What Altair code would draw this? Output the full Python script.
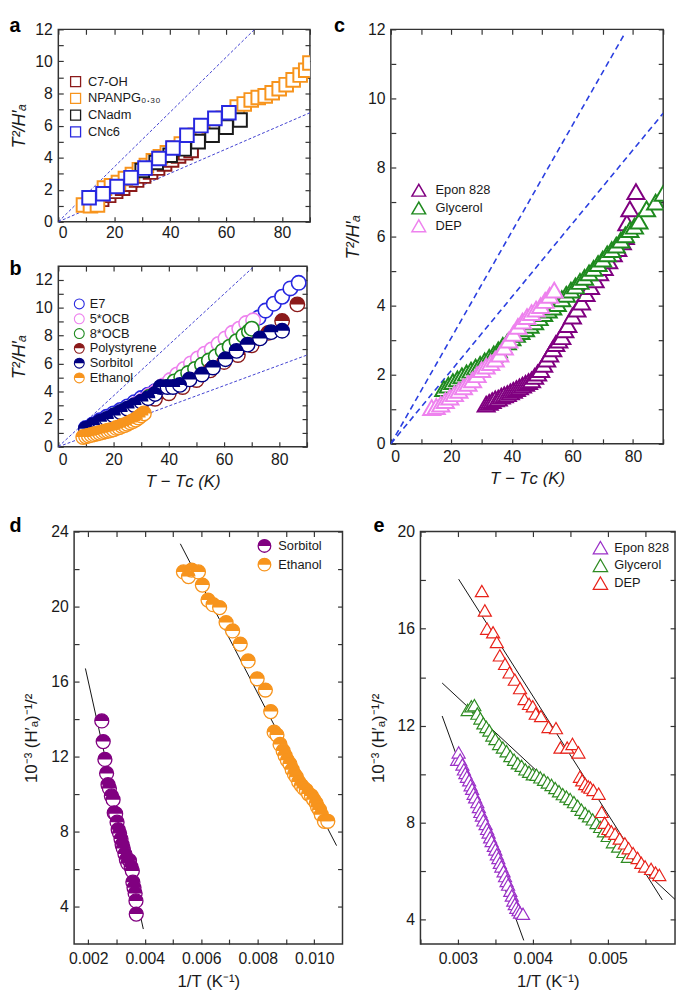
import altair as alt
import pandas as pd

FONT = "Liberation Sans"
INK = "#1a1a1a"
HALF = "M-1,0A1,1 0 0,1 1,0ZM-1,1L1,1Z"

# ---------------- panel a ----------------
a_names = ["C7-OH", "NPANPG₀.₃₀", "CNadm", "CNc6"]
a_colors = ["#8b1a1a", "#f7941d", "#1a1a1a", "#2828e0"]
a_c7oh_x = [13, 15.5, 18, 20.5, 23, 25.5, 28, 30.5, 33, 35.5, 38, 40.5, 43, 45.5, 47.5]
a_c7oh_y = [1.15, 1.4, 1.65, 1.9, 2.1, 2.35, 2.6, 2.85, 3.1, 3.35, 3.6, 3.85, 4.1, 4.3, 4.45]
a_npan_x = [9, 11.5, 14, 16.5, 19, 21.5, 24, 26.5, 29, 31.5, 34, 36.5, 39, 41.5, 44, 46.5, 49,
            51.5, 54, 56.5, 59, 61.5, 64, 66.5, 69, 71.5, 74, 76.5, 79, 81.5, 84, 86.5, 88.5, 90]
a_npan_y = [1.05, 1.0, 1.05, 2.1, 2.25, 2.45, 2.7, 2.95, 3.25, 3.5, 3.8, 4.05, 4.3, 4.6, 4.85, 5.15,
            5.4, 5.7, 5.95, 6.2, 6.45, 6.75, 7.15, 7.35, 7.6, 7.75, 7.85, 8.05, 8.3, 8.55, 8.85,
            9.15, 9.45, 9.9]
a_cnadm_x = [30, 35, 40, 45, 50, 55, 60, 65]
a_cnadm_y = [3.2, 3.7, 4.15, 4.55, 5.0, 5.4, 5.9, 6.35]
a_cnc6_x = [11, 16, 21, 26, 31, 36, 41, 46, 51, 56, 61]
a_cnc6_y = [1.5, 1.75, 2.2, 2.75, 3.35, 3.95, 4.6, 5.4, 6.0, 6.45, 6.8]
a_guide_id = ["upper", "upper", "lower", "lower"]
a_guide_x = [0, 70.2, 0, 90]
a_guide_y = [0, 12, 0, 6.8]

# ---------------- panel b ----------------
b_names = ["E7", "5*OCB", "8*OCB", "Polystyrene", "Sorbitol", "Ethanol"]
b_colors = ["#2828e0", "#ee82ee", "#1f8a1f", "#8b1a1a", "#000080", "#f7941d"]
b_half_colors = ["transparent", "transparent", "transparent", "#8b1a1a", "#000080", "#f7941d"]
b_e7_x = [10, 12.5, 15, 17.5, 20, 22.5, 25, 27.5, 30, 32.5, 35, 37.5, 40, 42.5, 45, 47.5, 50,
          52.5, 55, 57.5, 60, 62.5, 65, 67.5, 70, 72.5, 75, 78, 81, 84, 87]
b_e7_y = [1.35, 1.6, 1.9, 2.15, 2.4, 2.65, 2.9, 3.2, 3.5, 3.75, 4.0, 4.3, 4.6, 4.9, 5.2, 5.5, 5.9,
          6.2, 6.6, 6.9, 7.3, 7.7, 8.1, 8.5, 8.9, 9.3, 9.8, 10.3, 10.8, 11.4, 11.8]
b_5ocb_x = [13, 15.5, 18, 20.5, 23, 25.5, 28, 30.5, 33, 35.5, 38, 40.5, 43, 45.5, 48, 50.5, 53,
            55.5, 58, 60.5, 63, 65.5, 68, 70.5]
b_5ocb_y = [1.5, 1.75, 2.0, 2.25, 2.5, 2.75, 3.05, 3.35, 3.7, 4.0, 4.4, 4.8, 5.2, 5.6, 6.0, 6.35,
            6.7, 7.0, 7.4, 7.8, 8.2, 8.5, 8.9, 9.1]
b_8ocb_x = [12, 15, 18, 21, 24, 27, 30, 33, 36, 39, 42, 44.5, 47, 49.5, 52, 54.5, 57, 59.5, 62,
            64.5, 67, 69, 70]
b_8ocb_y = [1.4, 1.7, 2.0, 2.3, 2.6, 2.9, 3.2, 3.6, 3.9, 4.3, 4.7, 5.0, 5.3, 5.6, 5.9, 6.2, 6.5,
            6.9, 7.2, 7.6, 8.0, 8.3, 8.5]
b_poly_x = [12, 16, 20, 25, 30, 35, 40, 45, 50, 55, 60, 65, 70, 76, 81, 86.5]
b_poly_y = [1.4, 1.8, 2.1, 2.6, 3.1, 3.45, 3.85, 4.3, 4.8, 5.5, 6.1, 6.6, 7.3, 8.2, 9.05, 10.25]
b_sorb_x = [10, 12.5, 15, 17.5, 20, 22.5, 25, 27.5, 30, 32.5, 35, 37, 39.5, 41.5, 44, 47.5, 52,
            56, 60.5, 64.5, 68.5, 73, 77, 81]
b_sorb_y = [1.3, 1.55, 1.8, 2.0, 2.25, 2.5, 2.75, 3.0, 3.25, 3.5, 3.8, 4.3, 4.3, 4.3, 4.45, 4.85,
            5.2, 5.7, 6.3, 6.9, 7.35, 7.8, 8.25, 8.35]
b_eth_x = [9, 10, 11, 12, 13, 14, 15, 16, 17, 18, 19, 20, 21, 22, 23, 24, 25, 26, 27, 28, 29, 30, 31]
b_eth_y = [0.7, 0.75, 0.8, 0.85, 0.9, 0.95, 1.0, 1.05, 1.1, 1.15, 1.2, 1.25, 1.35, 1.4, 1.5, 1.55,
           1.65, 1.75, 1.85, 1.95, 2.1, 2.25, 2.4]
b_guide_id = ["upper", "upper", "lower", "lower"]
b_guide_x = [0, 70.9, 0, 90]
b_guide_y = [0, 13, 0, 6.6]

# ---------------- panel c ----------------
c_names = ["Epon 828", "Glycerol", "DEP"]
c_colors = ["#800080", "#1f8a1f", "#ee82ee"]
c_epon_x = [31.5, 32.5, 33.5, 34.5, 35.5, 36.5, 37.5, 38.5, 39.5, 40.5, 41.5, 42.5, 43.5, 44.5,
            45.5, 46.5, 47.5, 48.5, 49.5, 50.5, 51.5, 52.5, 53.5, 54.5, 55.5, 56.5, 57.5, 58.5,
            60, 61.5, 63, 64.5, 66, 67.5, 69, 70.5, 72, 73.5, 75, 76.5, 77.5, 78, 79, 81]
c_epon_y = [1.15, 1.2, 1.25, 1.3, 1.32, 1.38, 1.42, 1.45, 1.5, 1.55, 1.6, 1.65, 1.7, 1.75, 1.8,
            1.85, 1.95, 2.05, 2.15, 2.3, 2.45, 2.6, 2.75, 2.9, 3.0, 3.1, 3.3, 3.45, 3.7, 3.9, 4.1,
            4.35, 4.55, 4.75, 4.95, 5.1, 5.3, 5.5, 5.65, 5.85, 6.0, 6.4, 6.8, 7.3]
c_glyc_x = [17.5, 19, 20.5, 22, 23.5, 25, 26.5, 28, 29.5, 31, 32.5, 34, 35.5, 37, 38.5, 40, 41.5,
            43, 44.5, 46, 47.5, 49, 50.5, 52, 53.5, 55, 56.5, 58, 59.5, 61, 62.5, 64, 65.5, 67,
            68.5, 70, 71.5, 73, 74.5, 76, 77.5, 79, 80.5, 82, 84.5, 87.5, 90]
c_glyc_y = [1.6, 1.7, 1.8, 1.88, 1.97, 2.05, 2.13, 2.22, 2.3, 2.4, 2.5, 2.6, 2.72, 2.85, 2.95,
            3.07, 3.17, 3.25, 3.33, 3.43, 3.53, 3.65, 3.77, 3.87, 3.96, 4.06, 4.2, 4.33, 4.45,
            4.57, 4.7, 4.82, 4.95, 5.08, 5.22, 5.35, 5.5, 5.62, 5.75, 5.9, 6.05, 6.2, 6.3, 6.45,
            6.8, 7.0, 7.25]
c_dep_x = [13.5, 15, 16.5, 18, 19.5, 21, 22.5, 24, 25.5, 27, 28.5, 30, 31.5, 33, 34.5, 36, 37.5,
           39, 40.5, 42, 43.5, 45, 46.5, 48, 49.5, 51, 52.5, 54]
c_dep_y = [1.05, 1.08, 1.15, 1.25, 1.35, 1.45, 1.55, 1.65, 1.75, 1.85, 2.0, 2.15, 2.25, 2.35,
           2.45, 2.6, 2.8, 3.0, 3.2, 3.4, 3.55, 3.68, 3.8, 3.9, 4.0, 4.15, 4.3, 4.45]
c_guide_id = ["upper", "upper", "lower", "lower"]
c_guide_x = [0, 77.1, 0, 90]
c_guide_y = [0, 11.85, 0, 9.57]

# ---------------- panel d ----------------
d_names = ["Sorbitol", "Ethanol"]
d_colors = ["#800080", "#f7941d"]
d_sorb_x = [0.00248, 0.00253, 0.00259, 0.00265, 0.00270, 0.00275, 0.00282, 0.00288, 0.00292,
            0.00297, 0.00302, 0.00306, 0.00311, 0.00316, 0.00320, 0.00324, 0.00330, 0.00335,
            0.00340, 0.00346, 0.00352, 0.00356, 0.00358, 0.00362, 0.00366, 0.00369, 0.00370]
d_sorb_y = [13.9, 12.8, 11.85, 11.1, 10.5, 10.3, 9.9, 9.7, 9.0, 8.95, 8.5, 8.1, 7.9, 7.6, 7.3,
            7.1, 6.8, 6.5, 6.3, 6.45, 6.1, 5.9, 5.3, 5.0, 4.7, 4.3, 3.6]
d_eth_x = [0.00537, 0.00555, 0.00566, 0.00590, 0.00604, 0.00624, 0.00642, 0.00665, 0.00688,
           0.00711, 0.00738, 0.00766, 0.00798, 0.00827, 0.00846, 0.00858, 0.00868, 0.00879,
           0.00890, 0.00897, 0.00905, 0.00914, 0.00922, 0.00930, 0.00937, 0.00945, 0.00955,
           0.00963, 0.00972, 0.00980, 0.00990, 0.00998, 0.01007, 0.01012, 0.01019, 0.01025,
           0.01036, 0.01048]
d_eth_y = [21.85, 21.6, 21.95, 21.85, 21.15, 20.35, 20.1, 19.95, 19.15, 18.7, 18.0, 17.1, 16.15,
           15.55, 14.4, 13.3, 13.15, 12.65, 12.3, 12.05, 11.8, 11.6, 11.3, 11.05, 10.9, 10.65,
           10.45, 10.3, 10.2, 10.0, 9.9, 9.7, 9.5, 9.3, 9.15, 8.9, 8.55, 8.55]
d_fit_id = ["sorb", "sorb", "eth", "eth"]
d_fit_x = [0.0019, 0.00395, 0.00526, 0.01079]
d_fit_y = [16.7, 2.8, 23.35, 7.25]

# ---------------- panel e ----------------
e_names = ["Epon 828", "Glycerol", "DEP"]
e_colors = ["#9b30c8", "#2e8b22", "#e8221a"]
e_epon_x = [0.00299, 0.00301, 0.00303, 0.00306, 0.00308, 0.00310, 0.00312, 0.00315, 0.00317,
            0.00319, 0.00321, 0.00323, 0.00326, 0.00328, 0.00330, 0.00332, 0.00334, 0.00337,
            0.00339, 0.00341, 0.00343, 0.00345, 0.00348, 0.00350, 0.00352, 0.00354, 0.00356,
            0.00358, 0.00361, 0.00363, 0.00365, 0.00367, 0.00370, 0.00372, 0.00374, 0.00376,
            0.00378, 0.00381, 0.00383, 0.00387]
e_epon_y = [10.6, 10.9, 10.6, 10.4, 10.2, 10.05, 9.9, 9.75, 9.55, 9.4, 9.2, 9.05, 8.85, 8.65,
            8.45, 8.3, 8.1, 7.95, 7.75, 7.6, 7.4, 7.25, 7.05, 6.9, 6.7, 6.55, 6.35, 6.2, 6.0, 5.8,
            5.6, 5.45, 5.2, 5.0, 4.8, 4.65, 4.5, 4.4, 4.3, 4.25]
e_glyc_x = [0.00313, 0.00318, 0.00322, 0.00326, 0.00330, 0.00334, 0.00338, 0.00342, 0.00346,
            0.00350, 0.00355, 0.00360, 0.00365, 0.00370, 0.00375, 0.00380, 0.00385, 0.00390,
            0.00395, 0.00400, 0.00405, 0.00410, 0.00415, 0.00420, 0.00425, 0.00430, 0.00435,
            0.00440, 0.00445, 0.00450, 0.00455, 0.00460, 0.00465, 0.00470, 0.00475, 0.00480,
            0.00485, 0.00490, 0.00495, 0.00500, 0.00507, 0.00514, 0.00521, 0.00527]
e_glyc_y = [12.65, 12.8, 12.85, 12.5, 12.3, 12.1, 11.95, 11.8, 11.6, 11.45, 11.25, 11.1, 10.95,
            10.75, 10.6, 10.45, 10.35, 10.2, 10.1, 10.0, 9.98, 9.87, 9.77, 9.66, 9.56, 9.43, 9.3,
            9.18, 9.08, 8.98, 8.85, 8.7, 8.54, 8.4, 8.27, 8.14, 7.99, 7.83, 7.65, 7.46, 7.2,
            7.02, 6.8, 6.6]
e_dep_x = [0.00332, 0.00336, 0.00339, 0.00347, 0.00352, 0.00356, 0.00363, 0.00369, 0.00376,
           0.00383, 0.00389, 0.00395, 0.00400, 0.00404, 0.00411, 0.00421, 0.00431, 0.00437,
           0.00446, 0.00453, 0.00461, 0.00463, 0.00466, 0.00470, 0.00474, 0.00477, 0.00481,
           0.00488, 0.00492, 0.00496, 0.00501, 0.00505, 0.00510, 0.00516, 0.00523, 0.00528,
           0.00534, 0.00540, 0.00545, 0.00550, 0.00558, 0.00564, 0.00569]
e_dep_y = [17.55, 16.75, 16.0, 15.85, 15.45, 14.9, 14.55, 14.2, 13.9, 13.55, 13.1, 12.9, 12.8,
           12.5, 12.4, 11.95, 11.9, 11.1, 11.1, 11.25, 10.9, 9.9, 9.75, 9.6, 9.5, 9.45, 9.35,
           9.2, 8.45, 8.0, 7.75, 7.65, 7.55, 7.35, 7.15, 6.95, 6.75, 6.55, 6.35, 6.2, 6.1, 5.95,
           5.85]
e_fit_id = ["epon", "epon", "glyc", "glyc", "dep", "dep"]
e_fit_x = [0.00279, 0.00388, 0.00279, 0.0059, 0.00301, 0.00573]
e_fit_y = [12.4, 3.15, 13.76, 4.84, 18.04, 4.82]


# ---------------- helpers ----------------
def frame(names, xs, ys):
    rows = []
    for name, xx, yy in zip(names, xs, ys):
        for x, y in zip(xx, yy):
            rows.append({"series": name, "half": name + " (h)", "x": x, "y": y})
    return pd.DataFrame(rows)


def guide_frame(ids, xs, ys):
    return pd.DataFrame({"id": ids, "x": xs, "y": ys})


def sc(dom):
    return alt.Scale(domain=dom, nice=False, zero=False)


def ax(orient, values, expr=None, fmt=None, title=None, italic=False, tsize=18, tpad=6, lpad=5,
       letter=None):
    kw = dict(orient=orient, values=values, tickSize=5, offset=-5, domain=False, grid=False,
              tickColor="#333333", tickWidth=1.2)
    if expr is None:
        kw["labels"] = False
    else:
        kw.update(labelExpr=expr, labelFont=FONT, labelFontSize=16, labelColor=INK,
                  labelPadding=lpad, labelOverlap=False)
        if fmt is not None:
            kw["format"] = fmt
    if letter is not None:
        # panel letter, placed as the title of the (label-less) top axis
        txt, lx, ly = letter
        kw.update(title=txt, titleX=lx, titleY=ly, titleAngle=0, titleAlign="left",
                  titleBaseline="alphabetic", titleFont=FONT, titleFontSize=20,
                  titleFontWeight="bold", titleColor="#000000")
    elif title is None:
        kw["title"] = None
    else:
        kw.update(title=title, titleFont=FONT, titleFontSize=tsize, titleColor=INK,
                  titleFontWeight="normal", titlePadding=tpad,
                  titleFontStyle="italic" if italic else "normal")
    return alt.Axis(**kw)


def guide_layer(df, xs, ys, xt, yt, color, width, letter, dash=None):
    mk = dict(color=color, strokeWidth=width, clip=True)
    if dash is not None:
        mk["strokeDash"] = dash
    return alt.Chart(df).mark_line(**mk).encode(
        x=alt.X("x:Q", scale=xs, axis=ax("top", xt, letter=letter)),
        y=alt.Y("y:Q", scale=ys, axis=ax("right", yt)),
        detail="id:N",
    )


def pt_layer(df, xs, ys, shape, size, sw, sscale, slegend, xaxis=None, yaxis=None):
    return alt.Chart(df).mark_point(shape=shape, size=size, filled=True, fill="white",
                                    strokeWidth=sw, opacity=1, clip=True).encode(
        x=alt.X("x:Q", scale=xs, axis=xaxis),
        y=alt.Y("y:Q", scale=ys, axis=yaxis),
        stroke=alt.Stroke("series:N", scale=sscale, legend=slegend),
    )


def half_layer(df, xs, ys, size, fscale, flegend):
    return alt.Chart(df).mark_point(shape=HALF, size=size, filled=True, strokeWidth=0,
                                    opacity=1, clip=True).encode(
        x=alt.X("x:Q", scale=xs, axis=None),
        y=alt.Y("y:Q", scale=ys, axis=None),
        fill=alt.Fill("half:N", scale=fscale, legend=flegend),
    )


def leg(x, y, stype, ssize, sw, rowpad, loff, half=False):
    kw = dict(orient="none", legendX=x, legendY=y, title=None, symbolType=stype,
              symbolSize=ssize, symbolStrokeWidth=sw, labelFont=FONT, labelFontSize=13,
              labelColor=INK, rowPadding=rowpad, padding=0, labelOffset=loff, symbolOpacity=1)
    if half:
        kw["symbolStrokeColor"] = "transparent"
        kw["labelExpr"] = "''"
    else:
        kw["symbolFillColor"] = "white"
    return alt.Legend(**kw)


EX20 = "datum.value % 20 == 0 && datum.value < 90 ? datum.label : ''"
EY2 = "datum.value % 2 == 0 ? datum.label : ''"
EY4 = "datum.value % 4 == 0 ? datum.label : ''"
YT_T2 = "T²/H′ₐ"
YT_H = "10⁻³ (H′ₐ)⁻¹/²"
XT_T = "T − Tᴄ (K)"
XT_INV = "1/T (K⁻¹)"

# ---------------- panel a ----------------
xs_a, ys_a = sc([0, 90]), sc([0, 12])
xt_a, yt_a = list(range(0, 91, 10)), list(range(0, 13))
df_a = frame(a_names, [a_c7oh_x, a_npan_x, a_cnadm_x, a_cnc6_x],
             [a_c7oh_y, a_npan_y, a_cnadm_y, a_cnc6_y])
panel_a = alt.layer(
    guide_layer(guide_frame(a_guide_id, a_guide_x, a_guide_y), xs_a, ys_a, xt_a, yt_a,
                "#4040d0", 1, ("a", -50, -3), [3, 2]),
    pt_layer(df_a, xs_a, ys_a, "square", 190, 2, alt.Scale(domain=a_names, range=a_colors),
             leg(11, 46.4, "square", 102, 1.3, 0, 6),
             xaxis=ax("bottom", xt_a, EX20, lpad=3),
             yaxis=ax("left", yt_a, EY2, title=YT_T2, italic=True, tpad=6, lpad=6)),
).resolve_axis(x="independent", y="independent").properties(width=255, height=195)

# ---------------- panel b ----------------
xs_b, ys_b = sc([0, 90]), sc([0, 13])
xt_b, yt_b = list(range(0, 91, 10)), list(range(0, 13))
s_b = alt.Scale(domain=b_names, range=b_colors)
f_b = alt.Scale(domain=[n + " (h)" for n in b_names], range=b_half_colors)
lg_b = leg(14.75, 31.8, "circle", 100, 1.1, 0, 4)
lf_b = leg(14.75, 31.8, HALF, 100, 1.1, 0, 4, half=True)
df_b_open = frame(b_names[:3], [b_e7_x, b_5ocb_x, b_8ocb_x], [b_e7_y, b_5ocb_y, b_8ocb_y])
df_b_poly = frame(["Polystyrene"], [b_poly_x], [b_poly_y])
df_b_sorb = frame(["Sorbitol"], [b_sorb_x], [b_sorb_y])
df_b_eth = frame(["Ethanol"], [b_eth_x], [b_eth_y])
panel_b = alt.layer(
    guide_layer(guide_frame(b_guide_id, b_guide_x, b_guide_y), xs_b, ys_b, xt_b, yt_b,
                "#4040d0", 1, ("b", -50, 3), [3, 2]),
    pt_layer(df_b_open, xs_b, ys_b, "circle", 215, 1.6, s_b, lg_b,
             xaxis=ax("bottom", xt_b, EX20, title=XT_T, italic=True, tsize=17, tpad=6, lpad=5),
             yaxis=ax("left", yt_b, EY2, title=YT_T2, italic=True, tpad=6, lpad=6)),
    pt_layer(df_b_poly, xs_b, ys_b, "circle", 215, 1.4, s_b, lg_b),
    half_layer(df_b_poly, xs_b, ys_b, 215, f_b, lf_b),
    pt_layer(df_b_sorb, xs_b, ys_b, "circle", 215, 1.4, s_b, lg_b),
    half_layer(df_b_sorb, xs_b, ys_b, 215, f_b, lf_b),
    pt_layer(df_b_eth, xs_b, ys_b, "circle", 215, 1.4, s_b, lg_b),
    half_layer(df_b_eth, xs_b, ys_b, 215, f_b, lf_b),
).resolve_axis(x="independent", y="independent").properties(width=252, height=183)

# ---------------- panel c ----------------
xs_c, ys_c = sc([0, 90]), sc([0, 12])
xt_c, yt_c = list(range(0, 91, 10)), list(range(0, 13))
df_c = frame(c_names, [c_epon_x, c_glyc_x, c_dep_x], [c_epon_y, c_glyc_y, c_dep_y])
panel_c = alt.layer(
    guide_layer(guide_frame(c_guide_id, c_guide_x, c_guide_y), xs_c, ys_c, xt_c, yt_c,
                "#2a3fe0", 1.6, ("c", -58, -3), [6, 4]),
    pt_layer(df_c, xs_c, ys_c, "triangle-up", 300, 2, alt.Scale(domain=c_names, range=c_colors),
             leg(20.3, 155, "triangle-up", 192, 1.5, 0, 9),
             xaxis=ax("bottom", xt_c, EX20, title=XT_T, italic=True, tsize=17, tpad=6, lpad=5),
             yaxis=ax("left", yt_c, EY2, title=YT_T2, italic=True, tpad=5, lpad=6)),
).resolve_axis(x="independent", y="independent").properties(width=276, height=420)

# ---------------- panel d ----------------
xs_d, ys_d = sc([0.0015, 0.011]), sc([2, 24])
xt_d = [0.002, 0.003, 0.004, 0.005, 0.006, 0.007, 0.008, 0.009, 0.010]
yt_d = list(range(4, 25, 2))
EXD = "round(datum.value * 1000) % 2 == 0 ? datum.label : ''"
s_d = alt.Scale(domain=d_names, range=d_colors)
f_d = alt.Scale(domain=[n + " (h)" for n in d_names], range=d_colors)
lg_d = leg(185.4, 7, "circle", 164, 1.3, 0, 6.5)
lf_d = leg(185.4, 7, HALF, 164, 1.3, 0, 6.5, half=True)
df_d_sorb = frame(["Sorbitol"], [d_sorb_x], [d_sorb_y])
df_d_eth = frame(["Ethanol"], [d_eth_x], [d_eth_y])
panel_d = alt.layer(
    guide_layer(guide_frame(d_fit_id, d_fit_x, d_fit_y), xs_d, ys_d, xt_d, yt_d, "#111111", 1,
                ("d", -66, -5)),
    pt_layer(df_d_sorb, xs_d, ys_d, "circle", 200, 1.3, s_d, lg_d,
             xaxis=ax("bottom", xt_d, EXD, fmt=".3f", title=XT_INV, tsize=17, tpad=7, lpad=7),
             yaxis=ax("left", yt_d, EY4, title=YT_H, tsize=17, tpad=10, lpad=6)),
    half_layer(df_d_sorb, xs_d, ys_d, 200, f_d, lf_d),
    pt_layer(df_d_eth, xs_d, ys_d, "circle", 200, 1.3, s_d, lg_d),
    half_layer(df_d_eth, xs_d, ys_d, 200, f_d, lf_d),
).resolve_axis(x="independent", y="independent").properties(width=272, height=418)

# ---------------- panel e ----------------
xs_e, ys_e = sc([0.0025, 0.0059]), sc([3, 20])
xt_e = [0.0025, 0.003, 0.0035, 0.004, 0.0045, 0.005, 0.0055]
yt_e = list(range(4, 21, 2))
EXE = "round(datum.value * 2000) % 2 == 0 ? datum.label : ''"
df_e = frame(e_names, [e_epon_x, e_glyc_x, e_dep_x], [e_epon_y, e_glyc_y, e_dep_y])
panel_e = alt.layer(
    guide_layer(guide_frame(e_fit_id, e_fit_x, e_fit_y), xs_e, ys_e, xt_e, yt_e, "#111111", 1,
                ("e", -48, -5)),
    pt_layer(df_e, xs_e, ys_e, "triangle-up", 175, 1.2, alt.Scale(domain=e_names, range=e_colors),
             leg(174.4, 8.25, "triangle-up", 215, 1.2, 0, 6),
             xaxis=ax("bottom", xt_e, EXE, fmt=".3f", title=XT_INV, tsize=17, tpad=7, lpad=7),
             yaxis=ax("left", yt_e, EY4, title=YT_H, tsize=17, tpad=10, lpad=6)),
).resolve_axis(x="independent", y="independent").properties(width=258, height=418)

# invisible 16 px spacer that indents the bottom row as in the figure
spacer = alt.Chart(pd.DataFrame({"x": [0]})).mark_point(opacity=0).encode(
    x=alt.X("x:Q", axis=None), y=alt.Y("x:Q", axis=None)
).properties(width=16, height=10, view=alt.ViewBackground(stroke="transparent"))


# ---------------- layout ----------------
def indep(ch):
    return ch.resolve_scale(stroke="independent", fill="independent")


ab = indep(alt.vconcat(panel_a, panel_b, spacing=45, bounds="flush"))
ab_w = indep(alt.vconcat(ab))
c_w = indep(alt.vconcat(panel_c))
top = indep(alt.hconcat(ab_w, c_w, spacing=21))
de = indep(alt.hconcat(panel_d, panel_e, spacing=79, bounds="flush"))
bot = indep(alt.hconcat(spacer, de, spacing=0, bounds="flush"))
bot_w = indep(alt.vconcat(bot))
chart = indep(alt.vconcat(top, bot_w, spacing=25)).properties(padding=0)
chart = chart.configure(font=FONT).configure_view(stroke="#333333", strokeWidth=1.5)
chart.save("out.html", embed_options={"renderer": "svg", "actions": False})
